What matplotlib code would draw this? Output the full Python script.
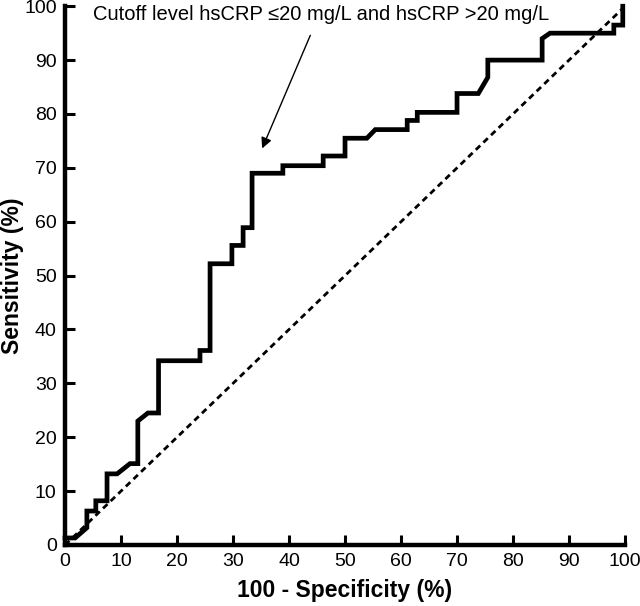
import matplotlib
matplotlib.use('Agg')
import matplotlib.pyplot as plt

plt.rcParams['font.family'] = ['Liberation Sans', 'DejaVu Sans']

# ROC curve vertices (100 - specificity, sensitivity)
fpr = [0, 1.8, 3.9, 3.9, 5.5, 5.5, 7.5, 7.5, 9.3, 11.6, 13.0, 13.0, 14.8, 16.7,
       16.7, 24.1, 24.1, 25.9, 25.9, 29.8, 29.8, 31.8, 31.8, 33.4, 33.4, 38.9,
       38.9, 46.1, 46.1, 50.0, 50.0, 53.9, 55.4, 61.1, 61.1, 62.9, 62.9, 70.0,
       70.0, 73.8, 75.5, 75.5, 85.2, 85.2, 86.6, 98.0, 98.0, 99.6, 99.6]
tpr = [1.3, 1.3, 3.2, 6.3, 6.3, 8.2, 8.2, 13.2, 13.2, 15.1, 15.1, 23.0, 24.5, 24.5,
       34.2, 34.2, 36.1, 36.1, 52.2, 52.2, 55.6, 55.6, 58.9, 58.9, 69.0, 69.0,
       70.4, 70.4, 72.2, 72.2, 75.5, 75.5, 77.1, 77.1, 78.8, 78.8, 80.3, 80.3,
       83.8, 83.8, 86.8, 90.0, 90.0, 94.0, 95.0, 95.0, 96.5, 96.5, 100]

ref_line = [0, 100]
ticks = list(range(0, 101, 10))

fig = plt.figure(figsize=(6.4, 6.06), dpi=100)
ax = fig.add_axes([0.1016, 0.1007, 0.875, 0.889])

ax.plot(ref_line, ref_line, color='black', linewidth=2.0, linestyle=(0, (2.2, 1.6)))
ax.plot(fpr, tpr, color='black', linewidth=3.4, solid_joinstyle='miter', clip_on=False)

ax.set_xlim(0, 100)
ax.set_ylim(0, 100)
ax.set_xticks(ticks)
ax.set_yticks(ticks)
ax.tick_params(direction='in', length=7, width=2.2, labelsize=14, pad=6)

for s in ['top', 'right']:
    ax.spines[s].set_visible(False)
for s in ['left', 'bottom']:
    ax.spines[s].set_linewidth(3.2)

ax.set_xlabel('100 - Specificity (%)', fontsize=16.5, fontweight='bold', va='center')
ax.set_ylabel('Sensitivity (%)', fontsize=16.5, fontweight='bold', va='center')
ax.xaxis.set_label_coords(0.5, -0.085)
ax.yaxis.set_label_coords(-0.094, 0.5)

ax.annotate('', xy=(35.2, 73.6), xytext=(43.8, 94.6),
            arrowprops=dict(arrowstyle='-|>', color='black', lw=1.0,
                            mutation_scale=16, shrinkA=0, shrinkB=0))
ax.text(5.0, 98.5, 'Cutoff level hsCRP \u226420 mg/L and hsCRP >20 mg/L',
        fontsize=14.5, va='center', ha='left')

plt.savefig('out.png', dpi=100)
